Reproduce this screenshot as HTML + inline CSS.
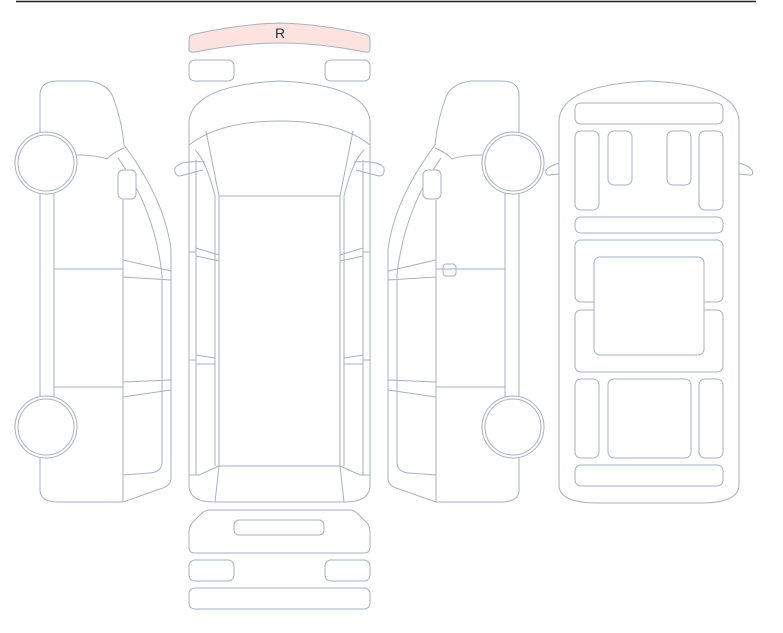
<!DOCTYPE html>
<html><head><style>body{margin:0;background:#fff}svg{display:block}</style></head><body>
<svg width="783" height="633" viewBox="0 0 783 633" xmlns="http://www.w3.org/2000/svg">
<line x1="16" y1="1.5" x2="756" y2="1.5" stroke="#222" stroke-width="1.5"/>
<g fill="none" stroke="#a5b1c3" stroke-width="1">
<!-- left side view -->
<g id="side">
<path d="M40 95 Q40 81 58 81 L88 81 Q110 84 114 100 Q122 122 124 145 Q165 200 171 250 L171 478 Q171 486 160 489 L123 502 L58 502 Q40 502 40 490 Z" fill="#fff"/>
<path d="M124 148 Q112 153 107 159 Q96 155 76 155"/>
<path d="M118 158 Q155 210 162 275 L162 462 Q162 472 150 473 L123 475"/>
<line x1="54" y1="190" x2="54" y2="398"/>
<line x1="123" y1="200" x2="123" y2="502"/>
<line x1="54" y1="269" x2="123" y2="269"/>
<line x1="54" y1="387" x2="123" y2="387"/>
<line x1="123" y1="260" x2="171" y2="271"/>
<line x1="123" y1="277" x2="171" y2="280"/>
<line x1="123" y1="382" x2="171" y2="380"/>
<line x1="123" y1="397" x2="171" y2="390"/>
<rect x="118" y="170" width="18" height="29" rx="5" fill="#fff"/>
<circle cx="46" cy="163" r="31" fill="#fff"/>
<circle cx="46" cy="163" r="28"/>
<circle cx="46" cy="427" r="31" fill="#fff"/>
<circle cx="46" cy="427" r="28"/>
</g>
<use href="#side" transform="translate(559 0) scale(-1 1)"/>
<rect x="443" y="264" width="13" height="12" rx="3"/>
<!-- top view center -->
<path d="M189 120 Q195 85 280 81 Q365 85 370 120 L370 485 Q370 502 345 502 L214 502 Q189 502 189 485 Z"/>
<path d="M189 145 Q220 121 280 121 Q340 121 370 145"/>
<rect x="219" y="196" width="121" height="270"/>
<path d="M206 131 L219 196 M353 131 L340 196"/>
<path d="M195 150 Q206 160 215 196 M364 150 Q353 160 344 196"/>
<line x1="196" y1="160" x2="196" y2="475"/><line x1="215" y1="196" x2="215" y2="466"/>
<line x1="363" y1="160" x2="363" y2="475"/><line x1="344" y1="196" x2="344" y2="466"/>
<path d="M205 162 Q180 160 175 168 Q174 176 180 176 L203 170"/>
<path d="M354 162 Q379 160 384 168 Q385 176 379 176 L356 170"/>
<path d="M189 252 L196 252 M196 248 L219 255 M196 256 L219 261 M370 252 L363 252 M363 248 L340 255 M363 256 L340 261"/>
<path d="M189 360 L196 360 M196 355 L215 358 M196 364 L215 364 M370 360 L363 360 M363 355 L344 358 M363 364 L344 364"/>
<path d="M219 466 L199 475 L189 475 M340 466 L360 475 L370 475 M219 466 L215 502 M340 466 L344 502"/>
<path d="M189 40 Q189 35 195 34 Q240 24 280 23 Q320 24 365 34 Q370 35 370 40 L370 49 Q370 53 365 52 Q320 43 280 43 Q240 43 195 52 Q189 53 189 49 Z" fill="#fde3df"/>
<rect x="189" y="60" width="45" height="21" rx="6"/>
<rect x="325" y="60" width="45" height="21" rx="6"/>
<path d="M210 510 L350 510 Q354 510 358 514 L367 523 Q370 527 370 531 L370 547 Q370 553 364 553 L195 553 Q189 553 189 547 L189 531 Q189 527 192 523 L201 514 Q205 510 210 510 Z"/>
<rect x="234" y="520" width="90" height="15" rx="5"/>
<rect x="189" y="560" width="45" height="21" rx="6"/>
<rect x="325" y="560" width="45" height="21" rx="6"/>
<rect x="189" y="588" width="181" height="21" rx="6"/>
<!-- right top view -->
<path d="M559 120 Q562 85 649 81 Q736 85 739 120 L739 485 Q739 503 700 503 L598 503 Q559 503 559 485 Z"/>
<path d="M559 163 Q549 166 546 170 Q545 176 550 175 L559 174 M739 163 Q749 166 752 170 Q754 176 749 175 L739 174"/>
<rect x="575" y="103" width="148" height="21" rx="6"/>
<rect x="575" y="131" width="24" height="79" rx="6"/>
<rect x="608" y="131" width="24" height="54" rx="6"/>
<rect x="667" y="131" width="24" height="54" rx="6"/>
<rect x="699" y="131" width="24" height="79" rx="6"/>
<rect x="575" y="217" width="148" height="16" rx="6"/>
<rect x="575" y="240" width="148" height="62" rx="6"/>
<rect x="575" y="310" width="148" height="62" rx="6"/>
<rect x="594" y="257" width="110" height="98" rx="6" fill="#fff"/>
<rect x="575" y="379" width="24" height="79" rx="6"/>
<rect x="608" y="379" width="83" height="79" rx="6"/>
<rect x="699" y="379" width="24" height="79" rx="6"/>
<rect x="575" y="465" width="148" height="21" rx="6"/>
</g>
<text x="280" y="38" text-anchor="middle" font-family="Liberation Sans, sans-serif" font-size="14" fill="#2a2f3a">R</text>
</svg>
</body></html>
